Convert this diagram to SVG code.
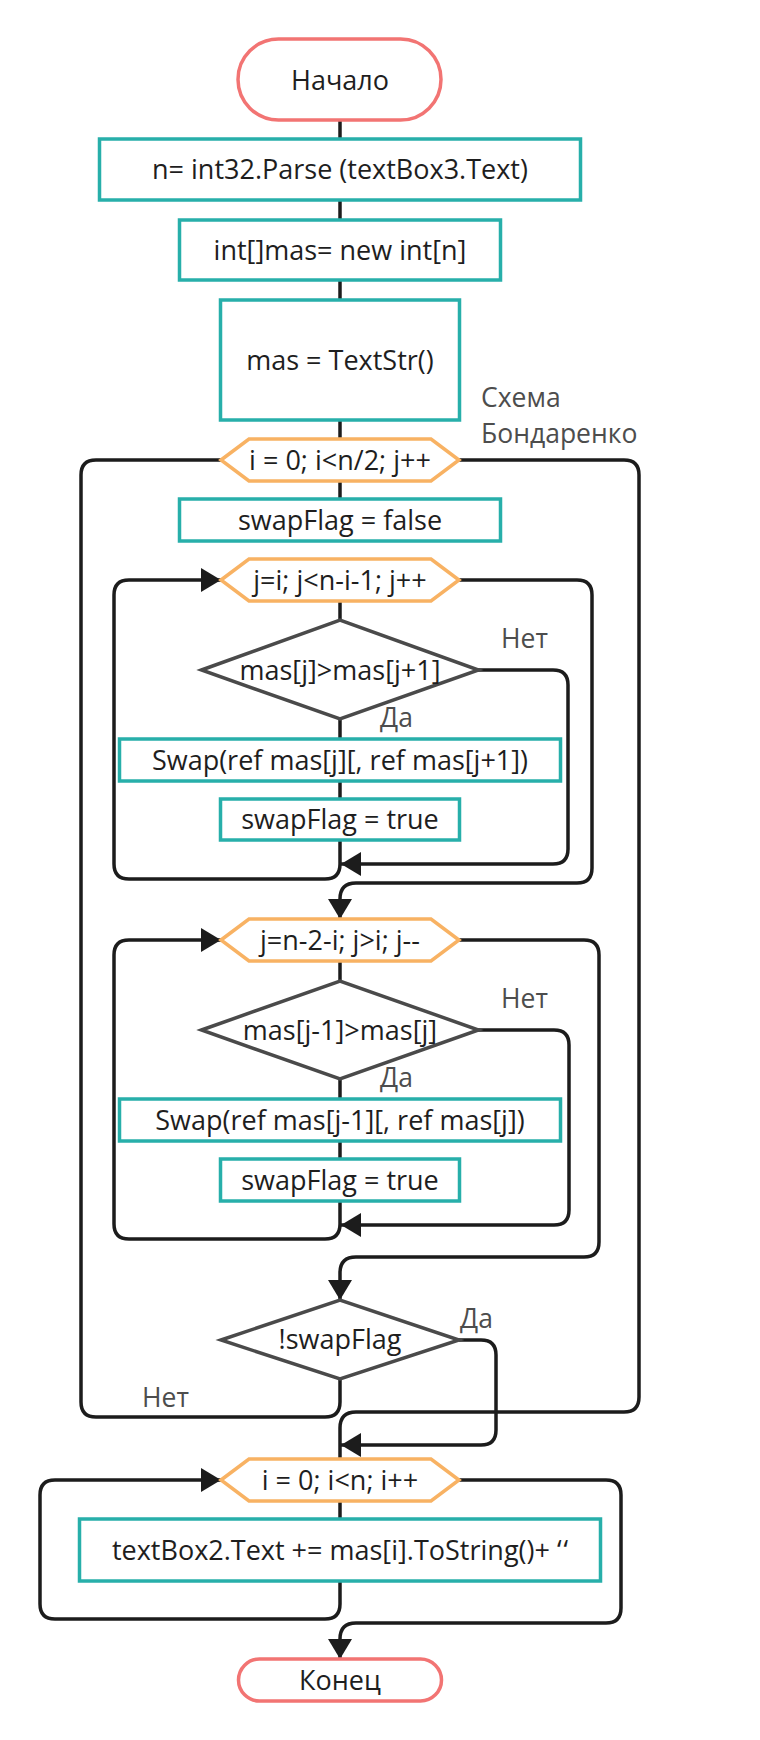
<svg xmlns="http://www.w3.org/2000/svg" width="760" height="1740" viewBox="0 0 760 1740">
<defs>
<style>
.term{fill:#fff;stroke:#F27473;stroke-width:3.5}
.proc{fill:#fff;stroke:#27AFAA;stroke-width:3.5}
.loop{fill:#fff;stroke:#F8B263;stroke-width:3.5}
.dec{fill:#fff;stroke:#4A4A4A;stroke-width:3.5}
.t{font-family:"Open Sans","Noto Sans",sans-serif;font-size:27px;fill:#1E1E1E;text-anchor:middle}
.lbl{font-family:"Open Sans","Noto Sans",sans-serif;font-size:26.5px;fill:#4D4D4D}
.c{fill:none;stroke:#1C1C1C;stroke-width:3.5;stroke-linejoin:round}
</style>
<marker id="ah" markerUnits="userSpaceOnUse" markerWidth="22" markerHeight="26" refX="20" refY="12" orient="auto">
<path d="M0,0 L20,12 L0,24 z" fill="#1C1C1C"/>
</marker>
</defs>
<rect width="760" height="1740" fill="#fff"/>

<g id="connectors">
<path class="c" d="M340,120 V139"/>
<path class="c" d="M340,200 V220"/>
<path class="c" d="M340,280 V300"/>
<path class="c" d="M340,420 V439"/>
<path class="c" d="M340,481 V499"/>
<path class="c" d="M340,601 V620"/>
<path class="c" d="M340,719 V739"/>
<path class="c" d="M340,781 V799"/>
<path class="c" d="M340,840 V864 Q340,879 325,879 H129 Q114,879 114,864 V595 Q114,580 129,580 H221" marker-end="url(#ah)"/>
<path class="c" d="M478,670 H553 Q568,670 568,685 V849 Q568,864 553,864 H341" marker-end="url(#ah)"/>
<path class="c" d="M459,580 H577 Q592,580 592,595 V868 Q592,883 577,883 H356 Q340,883 340,899 V919" marker-end="url(#ah)"/>
<path class="c" d="M340,961 V981"/>
<path class="c" d="M340,1079 V1099"/>
<path class="c" d="M340,1141 V1159"/>
<path class="c" d="M340,1201 V1224 Q340,1239 325,1239 H129 Q114,1239 114,1224 V955 Q114,940 129,940 H221" marker-end="url(#ah)"/>
<path class="c" d="M478,1030 H554 Q569,1030 569,1045 V1210 Q569,1225 554,1225 H341" marker-end="url(#ah)"/>
<path class="c" d="M459,940 H584 Q599,940 599,955 V1242 Q599,1257 584,1257 H356 Q340,1257 340,1273 V1300" marker-end="url(#ah)"/>
<path class="c" d="M459,1340 H481 Q496,1340 496,1355 V1430 Q496,1445 481,1445 H341" marker-end="url(#ah)"/>
<path class="c" d="M340,1379 V1402 Q340,1417 325,1417 H96 Q81,1417 81,1402 V475 Q81,460 96,460 H221"/>
<path class="c" d="M459,460 H624 Q639,460 639,475 V1397 Q639,1412 624,1412 H356 Q340,1412 340,1428 V1459"/>
<path class="c" d="M340,1501 V1519"/>
<path class="c" d="M340,1581 V1604 Q340,1619 325,1619 H55 Q40,1619 40,1604 V1495 Q40,1480 55,1480 H221" marker-end="url(#ah)"/>
<path class="c" d="M459,1480 H606 Q621,1480 621,1495 V1608 Q621,1623 606,1623 H356 Q340,1623 340,1639 V1659" marker-end="url(#ah)"/>
</g>

<g id="start"><rect class="term" x="238" y="39" width="203" height="81" rx="40.5"/><text class="t" x="340" y="90">Начало</text></g>
<g id="n_parse"><rect class="proc" x="99.5" y="139" width="481" height="61"/><text class="t" x="340" y="179">n= int32.Parse (textBox3.Text)</text></g>
<g id="mas_new"><rect class="proc" x="179.5" y="220" width="321" height="60"/><text class="t" x="340" y="260">int[]mas= new int[n]</text></g>
<g id="mas_text"><rect class="proc" x="220.5" y="300" width="239" height="120"/><text class="t" x="340" y="370">mas = TextStr()</text></g>
<g id="loop_i"><polygon class="loop" points="221,460 249,439 431,439 459,460 431,481 249,481"/><text class="t" x="340" y="470">i = 0; i&lt;n/2; j++</text></g>
<g id="flag_false"><rect class="proc" x="179.5" y="499" width="321" height="42"/><text class="t" x="340" y="530">swapFlag = false</text></g>
<g id="loop_j1"><polygon class="loop" points="221,580 249,559 431,559 459,580 431,601 249,601"/><text class="t" x="340" y="590">j=i; j&lt;n-i-1; j++</text></g>
<g id="cond1"><polygon class="dec" points="201.5,670 340,620 478.5,670 340,719"/><text class="t" x="340" y="680">mas[j]&gt;mas[j+1]</text></g>
<g id="swap1"><rect class="proc" x="119.5" y="739" width="441" height="42"/><text class="t" x="340" y="770">Swap(ref mas[j][, ref mas[j+1])</text></g>
<g id="flag_true1"><rect class="proc" x="220.5" y="799" width="239" height="41"/><text class="t" x="340" y="829">swapFlag = true</text></g>
<g id="loop_j2"><polygon class="loop" points="221,940 249,919 431,919 459,940 431,961 249,961"/><text class="t" x="340" y="950">j=n-2-i; j&gt;i; j--</text></g>
<g id="cond2"><polygon class="dec" points="201.5,1030 340,981 478.5,1030 340,1079"/><text class="t" x="340" y="1040">mas[j-1]&gt;mas[j]</text></g>
<g id="swap2"><rect class="proc" x="119.5" y="1099" width="441" height="42"/><text class="t" x="340" y="1130">Swap(ref mas[j-1][, ref mas[j])</text></g>
<g id="flag_true2"><rect class="proc" x="220.5" y="1159" width="239" height="42"/><text class="t" x="340" y="1190">swapFlag = true</text></g>
<g id="cond3"><polygon class="dec" points="221,1340 340,1300 459,1340 340,1379"/><text class="t" x="340" y="1349">!swapFlag</text></g>
<g id="loop_out"><polygon class="loop" points="221,1480 249,1459 431,1459 459,1480 431,1501 249,1501"/><text class="t" x="340" y="1490">i = 0; i&lt;n; i++</text></g>
<g id="output"><rect class="proc" x="79.5" y="1519" width="521" height="62"/><text class="t" x="340" y="1560">textBox2.Text += mas[i].ToString()+ ‘<tspan dx="2">‘</tspan></text></g>
<g id="end"><rect class="term" x="238.5" y="1659" width="203" height="42" rx="21"/><text class="t" x="340" y="1690">Конец</text></g>

<g id="labels">
<text class="lbl" x="481" y="407">Схема</text>
<text class="lbl" x="481" y="443">Бондаренко</text>
<text class="lbl" x="501" y="648">Нет</text>
<text class="lbl" x="380" y="727">Да</text>
<text class="lbl" x="501" y="1008">Нет</text>
<text class="lbl" x="380" y="1087">Да</text>
<text class="lbl" x="460" y="1328">Да</text>
<text class="lbl" x="142" y="1407">Нет</text>
</g>
</svg>
